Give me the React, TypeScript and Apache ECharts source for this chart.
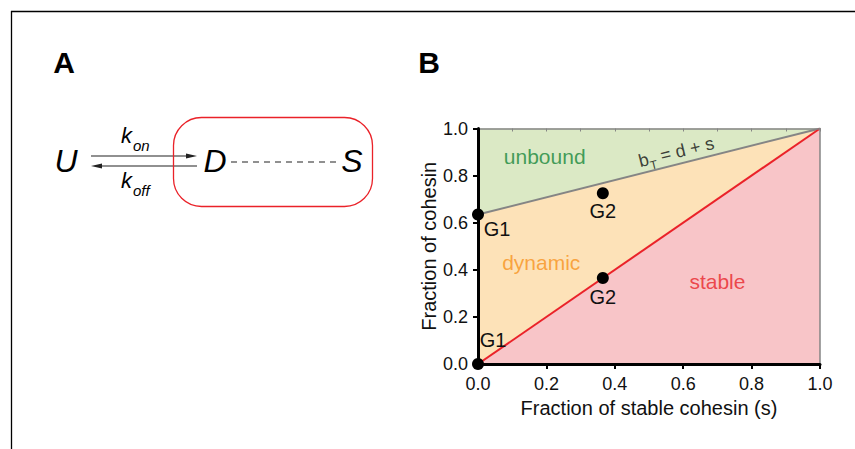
import React, { useEffect, useRef } from "react";
import * as echarts from "echarts";

// ---- data ----
const xTicks = [0, 0.2, 0.4, 0.6, 0.8, 1.0];
const yTicks = [0, 0.2, 0.4, 0.6, 0.8, 1.0];
const totalBoundLine = [[0, 0.635], [1, 1]]; // b_T = d + s
const stableLine = [[0, 0], [1, 1]];
const g1Points = [[0, 0.635], [0, 0]];
const g2Points = [[0.365, 0.725], [0.365, 0.365]];
const unboundRegion = [[0, 0.635], [0, 1], [1, 1]];
const dynamicRegion = [[0, 0], [0, 0.635], [1, 1]];
const stableRegion = [[0, 0], [1, 1], [1, 0]];
const regionNames = ["unbound", "dynamic", "stable"];
const regionLabelAt = [[0.195, 0.88], [0.185, 0.43], [0.70, 0.35]];
const lineLabelAt = [[0.58, 0.9]];

const FONT = "Liberation Sans, Arial, Helvetica, sans-serif";
const GREEN_FILL = "#dbe9c5";
const ORANGE_FILL = "#fde2b8";
const PINK_FILL = "#f8c5c8";
const RED = "#ea2229";
const GRAY = "#858585";
const INK = "#111111";

function polySeries(region: number[][], fill: string) {
  return {
    type: "custom",
    z: 1,
    silent: true,
    data: [[0, 0]],
    renderItem: (_p: any, api: any) => ({
      type: "polygon",
      shape: { points: region.map((pt) => api.coord(pt)) },
      style: { fill, stroke: null },
    }),
  };
}

export default function App() {
  const ref = useRef<HTMLDivElement>(null);
  useEffect(() => {
    if (!ref.current) return;
    const chart = echarts.init(ref.current, null, { renderer: "svg" });
    const regionColors = ["#16873a", "#f7931e", "#e8262b"];
    const pointLabelOffsets = [
      [[19, 15], [15, -24]],
      [[0, 18], [0, 19]],
    ];
    const option: any = {
      animation: false,
      textStyle: { fontFamily: FONT },
      grid: { left: 478, top: 128.5, width: 342, height: 235.5 },
      xAxis: [
        {
          type: "value",
          min: 0,
          max: 1,
          interval: 0.2,
          position: "bottom",
          z: 5,
          name: "Fraction of stable cohesin (s)",
          nameLocation: "middle",
          nameGap: 32,
          nameTextStyle: { fontSize: 20, color: INK, fontFamily: FONT },
          axisLine: { show: true, onZero: false, lineStyle: { color: "#000", width: 3 } },
          axisTick: { show: true, length: 5, lineStyle: { color: "#000", width: 2 }, customValues: xTicks },
          axisLabel: { fontSize: 18, color: INK, margin: 11, fontFamily: FONT, formatter: (v: number) => v.toFixed(1) },
          splitLine: { show: false },
        },
        {
          type: "value",
          min: 0,
          max: 1,
          interval: 0.1,
          position: "top",
          z: 4,
          axisLine: { show: true, onZero: false, lineStyle: { color: GRAY, width: 1.5 } },
          axisTick: { show: true, inside: true, length: 3, lineStyle: { color: GRAY, width: 1 } },
          axisLabel: { show: false },
          splitLine: { show: false },
        },
      ],
      yAxis: [
        {
          type: "value",
          min: 0,
          max: 1,
          interval: 0.2,
          position: "left",
          z: 5,
          name: "Fraction of cohesin",
          nameLocation: "middle",
          nameGap: 38,
          nameTextStyle: { fontSize: 20, color: INK, fontFamily: FONT },
          axisLine: { show: true, onZero: false, lineStyle: { color: "#000", width: 3 } },
          axisTick: { show: true, length: 5, lineStyle: { color: "#000", width: 2 }, customValues: yTicks },
          axisLabel: { fontSize: 18, color: INK, margin: 10, fontFamily: FONT, formatter: (v: number) => v.toFixed(1) },
          splitLine: { show: false },
        },
        {
          type: "value",
          min: 0,
          max: 1,
          position: "right",
          z: 4,
          axisLine: { show: true, onZero: false, lineStyle: { color: GRAY, width: 1.5 } },
          axisTick: { show: false },
          axisLabel: { show: false },
          splitLine: { show: false },
        },
      ],
      series: [
        polySeries(unboundRegion, GREEN_FILL),
        polySeries(dynamicRegion, ORANGE_FILL),
        polySeries(stableRegion, PINK_FILL),
        {
          type: "line",
          z: 3,
          data: totalBoundLine,
          symbol: "none",
          lineStyle: { color: GRAY, width: 2 },
          silent: true,
        },
        {
          type: "line",
          z: 3,
          data: stableLine,
          symbol: "none",
          lineStyle: { color: RED, width: 2 },
          silent: true,
        },
        {
          type: "scatter",
          z: 6,
          symbolSize: 0,
          silent: true,
          data: regionLabelAt.map((p, i) => ({
            value: p,
            label: {
              show: true,
              position: "inside",
              formatter: regionNames[i],
              color: regionColors[i],
              fontSize: 21,
              fontFamily: FONT,
            },
          })),
        },
        {
          type: "scatter",
          z: 6,
          symbolSize: 0,
          silent: true,
          data: lineLabelAt.map((p) => ({
            value: p,
            label: {
              show: true,
              position: "inside",
              rotate: 14,
              formatter: "{b|b}{t|T}{r| = d + s}",
              rich: {
                b: { fontSize: 18, lineHeight: 26, color: INK, fontFamily: FONT },
                t: { fontSize: 12, lineHeight: 12, color: INK, fontFamily: FONT, verticalAlign: "bottom" },
                r: { fontSize: 18, lineHeight: 26, color: INK, fontFamily: FONT },
              },
            },
          })),
        },
        ...[g1Points, g2Points].map((pts, si) => ({
          type: "scatter",
          z: 10,
          symbolSize: 12,
          itemStyle: { color: "#000", opacity: 1 },
          silent: true,
          data: pts.map((p, i) => ({
            value: p,
            label: {
              show: true,
              position: "inside",
              offset: pointLabelOffsets[si][i],
              formatter: si === 0 ? "G1" : "G2",
              color: INK,
              fontSize: 20,
              fontFamily: FONT,
            },
          })),
        })),
      ],
      graphic: [
        // frame
        { type: "line", shape: { x1: 11, y1: 11.5, x2: 855, y2: 11.5 }, style: { stroke: "#000", lineWidth: 1.3 } },
        { type: "line", shape: { x1: 11.5, y1: 11, x2: 11.5, y2: 449 }, style: { stroke: "#000", lineWidth: 1.3 } },
        // panel letters
        { type: "text", x: 64, y: 62, style: { text: "A", fontSize: 30, fontWeight: "bold", fontFamily: FONT, fill: "#000", align: "center", verticalAlign: "middle" } },
        { type: "text", x: 429, y: 62, style: { text: "B", fontSize: 30, fontWeight: "bold", fontFamily: FONT, fill: "#000", align: "center", verticalAlign: "middle" } },
        // panel A diagram
        { type: "text", x: 66, y: 161, style: { text: "U", fontSize: 32, fontStyle: "italic", fontFamily: FONT, fill: "#000", align: "center", verticalAlign: "middle" } },
        { type: "text", x: 215, y: 161, style: { text: "D", fontSize: 32, fontStyle: "italic", fontFamily: FONT, fill: "#000", align: "center", verticalAlign: "middle" } },
        { type: "text", x: 352, y: 161, style: { text: "S", fontSize: 32, fontStyle: "italic", fontFamily: FONT, fill: "#000", align: "center", verticalAlign: "middle" } },
        { type: "text", x: 121, y: 135, style: { text: "k", fontSize: 22, fontStyle: "italic", fontFamily: FONT, fill: "#000", align: "left", verticalAlign: "middle" } },
        { type: "text", x: 133, y: 145, style: { text: "on", fontSize: 15, fontStyle: "italic", fontFamily: FONT, fill: "#000", align: "left", verticalAlign: "middle" } },
        { type: "text", x: 121, y: 180, style: { text: "k", fontSize: 22, fontStyle: "italic", fontFamily: FONT, fill: "#000", align: "left", verticalAlign: "middle" } },
        { type: "text", x: 133, y: 190, style: { text: "off", fontSize: 15, fontStyle: "italic", fontFamily: FONT, fill: "#000", align: "left", verticalAlign: "middle" } },
        { type: "line", shape: { x1: 91, y1: 156, x2: 190, y2: 156 }, style: { stroke: "#222", lineWidth: 1.2 } },
        { type: "polygon", shape: { points: [[197, 156], [186, 153.5], [186, 158.5]] }, style: { fill: "#222" } },
        { type: "line", shape: { x1: 98, y1: 166, x2: 197, y2: 166 }, style: { stroke: "#222", lineWidth: 1.2 } },
        { type: "polygon", shape: { points: [[91, 166], [102, 163.5], [102, 168.5]] }, style: { fill: "#222" } },
        { type: "line", shape: { x1: 231, y1: 162, x2: 337, y2: 162 }, style: { stroke: "#222", lineWidth: 1.2, lineDash: [6, 5] } },
        { type: "rect", shape: { x: 173.5, y: 117.5, width: 199, height: 89, r: 28 }, style: { fill: "none", stroke: RED, lineWidth: 1.3 } },
      ],
    };
    chart.setOption(option);
    return () => chart.dispose();
  }, []);
  return (
    <div
      ref={ref}
      style={{ position: "absolute", left: 0, top: 0, width: 855, height: 449, background: "#fff" }}
    />
  );
}
